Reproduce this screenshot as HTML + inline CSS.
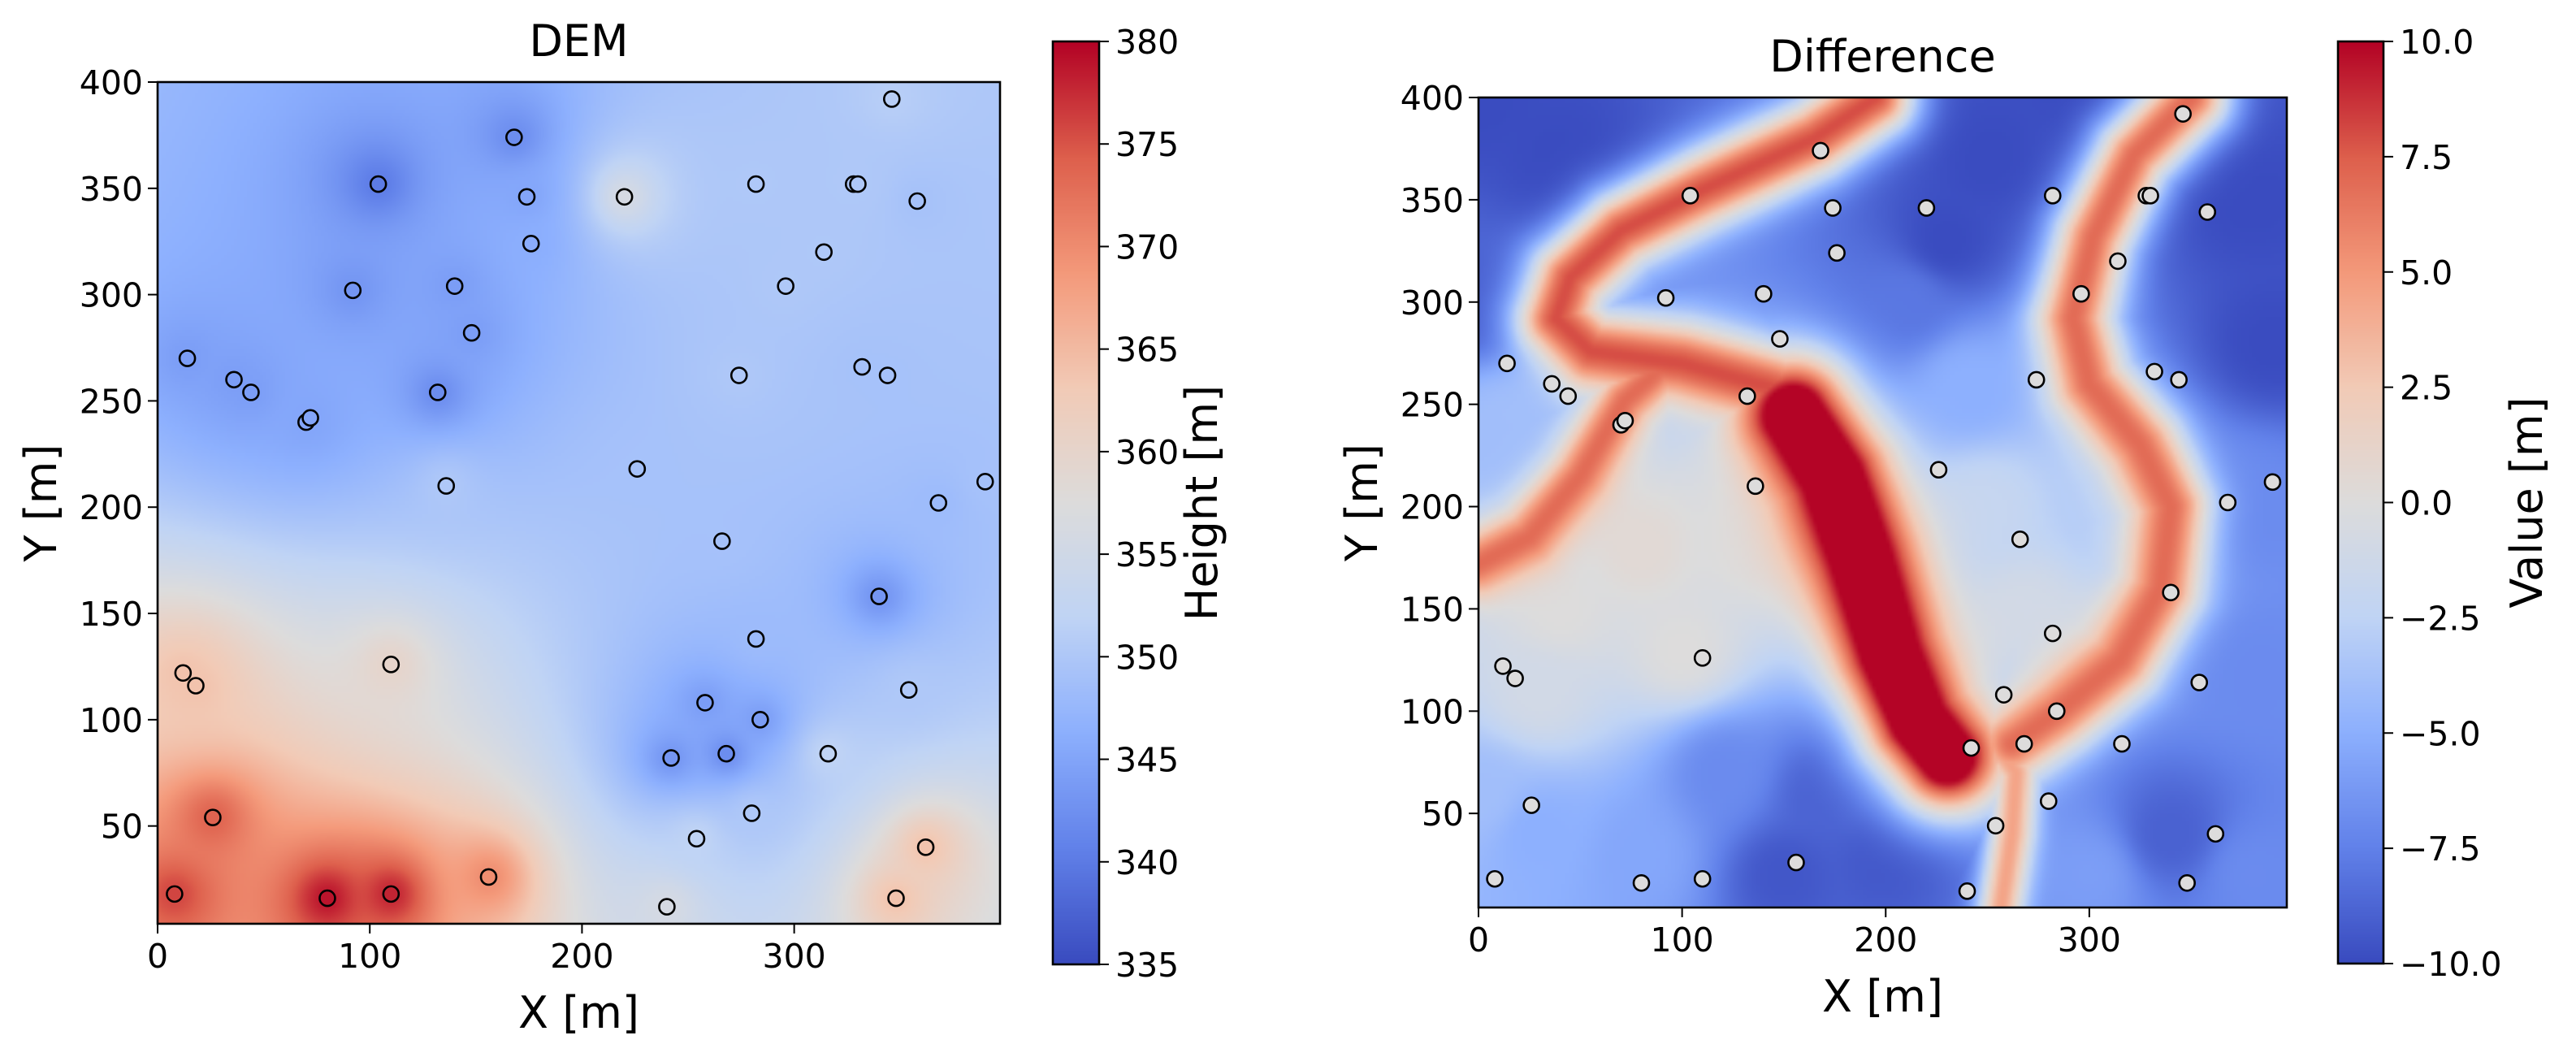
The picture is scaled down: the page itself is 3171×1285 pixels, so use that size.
<!DOCTYPE html>
<html><head><meta charset="utf-8"><style>
html,body{margin:0;padding:0;background:#fff;}
#wrap{position:relative;width:3171px;height:1285px;overflow:hidden;font-family:"DejaVu Sans","Liberation Sans",sans-serif;}
svg{position:absolute;left:0;top:0;}
canvas{position:absolute;}
</style></head><body>
<div id="wrap">
<canvas id="dem" style="left:194px;top:101px;width:1037px;height:1036px"></canvas>
<canvas id="dif" style="left:1820px;top:120px;width:995px;height:997px"></canvas>
<canvas id="cb1" style="left:1296px;top:51px;width:57px;height:1136px"></canvas>
<canvas id="cb2" style="left:2878px;top:51px;width:56px;height:1135px"></canvas>
<svg id="svg" width="3171" height="1285"></svg>
</div>
<script>
// ---- data ----
const ptX = [346,168,104,282,328,330,174,220,358,176,314,92,140,296,148,14,36,44,132,274,332,344,70,72,226,136,390,368,266,340,282,12,18,110,354,258,284,242,268,316,280,26,254,362,156,8,80,110,240,348];
const ptY = [392,374,352,352,352,352,346,346,344,324,320,302,304,304,282,270,260,254,254,262,266,262,240,242,218,210,212,202,184,158,138,122,116,126,114,108,100,82,84,84,56,54,44,40,26,18,16,18,12,16];
const ptH = [351,342,340,350,350,350,345,356,349,346,350,343,344,350,344,344,344,344,342,350,349,349,345,345,349,350,349,348,349,343,348,364,364,360,350,344,344,343,342,352,350,374,352,364,370,376,379,378,356,364];
const demTicks = [335,340,345,350,355,360,365,370,375,380];
const difTicks = [-10,-7.5,-5,-2.5,0,2.5,5,7.5,10];
const axTicksX = [0,100,200,300];
const axTicksY = [50,100,150,200,250,300,350,400];
// difference background anchors
const baseX = [0,40,0,10,40,80,100,30,30,80,150,200,170,120,230,250,210,240,250,270,380,390,380,380,340,300,380,310,300,130,0];
const baseY = [400,370,300,240,150,180,130,110,40,30,20,30,60,70,330,370,300,260,200,150,350,280,200,120,40,20,20,200,400,180,60];
const baseV = [-10,-10,-9,-4,0,0.5,0,-1,-5,-5.5,-9.5,-9.5,-9,-7,-10,-10,-8,-5,-2,-1,-10,-10,-7,-7,-9,-6,-7,-3,-10,0,-4];
// difference ridges
const ridgeA = [[195,400],[165,380],[110,355],[70,335],[45,312],[38,292],[55,276],[100,270],[145,258]];
const ridgeB = [[0,172],[25,185],[50,215],[72,252],[90,268]];
const ridgeC = [[155,245],[174,215],[188,175],[202,128],[216,95],[230,78]];
const ridgeS = [[232,76],[252,86],[264,70],[262,40],[256,0]];
const ridgeD = [[350,400],[322,372],[302,332],[292,292],[300,260],[325,230],[340,200],[335,160],[315,125],[285,100],[262,84]];
const ridgePeak = [8,7,14,4.5,7];
const ridgeSig = [14,11,20,8,14];

// ---- colormap ----
const cmStops=[[58,76,192],[98,130,234],[141,176,254],[192,212,245],[221,220,220],[242,203,183],[244,154,123],[222,96,77],[180,4,38]];
function cmap(t){t=Math.max(0,Math.min(1,t));const f=t*8,i=Math.min(7,Math.floor(f)),r=f-i;const a=cmStops[i],b=cmStops[i+1];return [a[0]+(b[0]-a[0])*r,a[1]+(b[1]-a[1])*r,a[2]+(b[2]-a[2])*r];}
function rgb(c){return `rgb(${c[0]|0},${c[1]|0},${c[2]|0})`;}

const X0=0,X1=397,Y0=4,Y1=400;
const P1={l:194,t:101,w:1037,h:1036}, P2={l:1820,t:120,w:995,h:997};
function sx(P,v){return P.l+(v-X0)/(X1-X0)*P.w;}
function sy(P,v){return P.t+(Y1-v)/(Y1-Y0)*P.h;}

function idw(xs,ys,vs,x,y,p){let n=0,d=0;for(let i=0;i<xs.length;i++){const q=(xs[i]-x)**2+(ys[i]-y)**2;if(q<1e-6)return vs[i];const w=1/Math.pow(q,p/2);n+=w*vs[i];d+=w;}return n/d;}
function segDist(px,py,pts){let m=1e9;for(let i=0;i<pts.length-1;i++){const [ax,ay]=pts[i],[bx,by]=pts[i+1];const dx=bx-ax,dy=by-ay;let t=((px-ax)*dx+(py-ay)*dy)/(dx*dx+dy*dy);t=Math.max(0,Math.min(1,t));const d=(px-ax-t*dx)**2+(py-ay-t*dy)**2;if(d<m)m=d;}return m;}
const ridges=[ridgeA,ridgeB,ridgeC,ridgeS,ridgeD];

function fill(id,P,N,fn,vmin,vmax){const c=document.getElementById(id);c.width=N;c.height=N;const g=c.getContext('2d');const im=g.createImageData(N,N);
 for(let j=0;j<N;j++)for(let i=0;i<N;i++){const x=X0+(i+0.5)/N*(X1-X0),y=Y1-(j+0.5)/N*(Y1-Y0);const col=cmap((fn(x,y)-vmin)/(vmax-vmin));const k=(j*N+i)*4;im.data[k]=col[0];im.data[k+1]=col[1];im.data[k+2]=col[2];im.data[k+3]=255;}
 g.putImageData(im,0,0);}
fill('dem',P1,260,(x,y)=>idw(ptX,ptY,ptH,x,y,2),335,380);
fill('dif',P2,220,(x,y)=>{const b=idw(baseX,baseY,baseV,x,y,3);let v=b;
 for(let r=0;r<ridges.length;r++){const d2=segDist(x,y,ridges[r]);const w=Math.exp(-d2/(2*ridgeSig[r]**2));const vr=b*(1-w)+ridgePeak[r]*w;if(vr>v)v=vr;}
 return v;},-10,10);
function cbar(id){const c=document.getElementById(id);c.width=1;c.height=256;const g=c.getContext('2d');for(let j=0;j<256;j++){g.fillStyle=rgb(cmap(1-j/255));g.fillRect(0,j,1,1);}}
cbar('cb1');cbar('cb2');

// ---- svg ----
const svg=document.getElementById('svg');const NS='http://www.w3.org/2000/svg';
function el(t,a,txt){const e=document.createElementNS(NS,t);for(const k in a)e.setAttribute(k,a[k]);if(txt!==undefined)e.textContent=txt;svg.appendChild(e);return e;}
function panel(P,pre,fillFn,title){
 for(let i=0;i<ptX.length;i++){const c=el('circle',{cx:sx(P,ptX[i]),cy:sy(P,ptY[i]),r:9.5,fill:fillFn(i),stroke:'#000','stroke-width':2.6});
  
  }
 const fr=el('rect',{x:P.l,y:P.t,width:P.w,height:P.h,fill:'none',stroke:'#000','stroke-width':2.6});
 
 for(const v of axTicksX){const x=sx(P,v);el('line',{x1:x,x2:x,y1:P.t+P.h,y2:P.t+P.h+12,stroke:'#000','stroke-width':2});
  const t=el('text',{x:x,y:P.t+P.h+54,'font-size':41,'text-anchor':'middle'},v);}
 for(const v of axTicksY){const y=sy(P,v);el('line',{x1:P.l-12,x2:P.l,y1:y,y2:y,stroke:'#000','stroke-width':2});
  const t=el('text',{x:P.l-18,y:y+15,'font-size':41,'text-anchor':'end'},v);}
 const cx=P.l+P.w/2;
 let t=el('text',{x:cx,y:P.t-32,'font-size':54,'text-anchor':'middle'},title);
 t=el('text',{x:cx,y:P.t+P.h+128,'font-size':54,'text-anchor':'middle'},'X [m]');
 const yc=P.t+P.h/2;t=el('text',{x:P.l-125,y:yc,'font-size':54,'text-anchor':'middle',transform:`rotate(-90 ${P.l-125} ${yc})`},'Y [m]');
}
panel(P1,'dem',i=>rgb(cmap((ptH[i]-335)/45)),'DEM');
panel(P2,'diff',i=>'#dddcdc','Difference');
function cbAxis(L,T,W,H,ticks,vmin,vmax,label,pre,fmt){
 const r=el('rect',{x:L,y:T,width:W,height:H,fill:'none',stroke:'#000','stroke-width':2.6});
 for(const v of ticks){const y=T+H-(v-vmin)/(vmax-vmin)*H;el('line',{x1:L+W,x2:L+W+12,y1:y,y2:y,stroke:'#000','stroke-width':2});
  const t=el('text',{x:L+W+20,y:y+15,'font-size':41},fmt(v));}
 const lx=L+W+(pre==='dem'?145:195),ly=T+H/2;
 const t=el('text',{x:lx,y:ly,'font-size':54,'text-anchor':'middle',transform:`rotate(-90 ${lx} ${ly})`},label);
}
cbAxis(1296,51,57,1136,demTicks,335,380,'Height [m]','dem',v=>String(v));
cbAxis(2878,51,56,1135,difTicks,-10,10,'Value [m]','diff',v=>(v<0?'\u2212':'')+Math.abs(v).toFixed(1));
</script>
</body></html>
